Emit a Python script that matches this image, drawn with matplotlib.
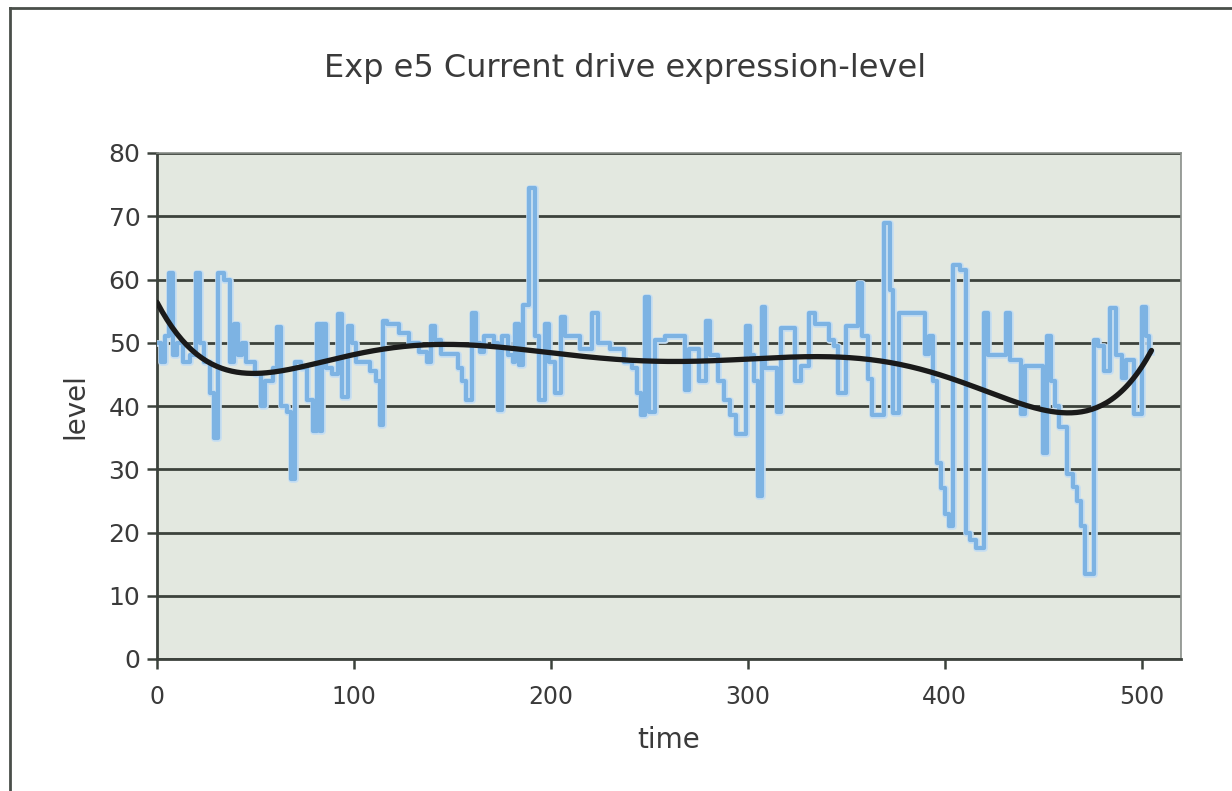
import numpy as np
import matplotlib
matplotlib.use("Agg")
import matplotlib.pyplot as plt
from matplotlib.lines import Line2D
import matplotlib.patheffects as pe

# Expression level samples: value holds from each time until the next one
time = [0, 2, 4, 6, 8, 10, 13, 17, 20, 22, 24, 27, 29, 31, 34, 37, 39, 41, 43, 45,
        50, 53, 55, 59, 61, 63, 66, 68, 70, 73, 76, 79, 81, 83, 84, 86, 89, 92, 94, 97,
        99, 101, 108, 111, 113, 115, 117, 123, 128, 133, 137, 139, 141, 144, 153, 155, 157, 160, 162, 164,
        166, 171, 173, 175, 178, 181, 182, 184, 186, 189, 192, 194, 197, 199, 202, 205, 207, 215, 221, 224,
        230, 237, 241, 244, 246, 248, 250, 253, 258, 268, 270, 275, 279, 281, 285, 288, 291, 294, 299, 301,
        303, 305, 307, 309, 315, 317, 324, 327, 331, 334, 341, 344, 346, 350, 356, 358, 361, 363, 369, 372,
        374, 377, 390, 392, 394, 396, 398, 400, 402, 404, 408, 411, 413, 416, 420, 422, 431, 433, 439, 441,
        450, 452, 454, 456, 458, 462, 465, 467, 469, 471, 476, 478, 481, 484, 487, 490, 492, 496, 500, 502,
        504, 505]
level = [50, 47, 51, 61, 48, 50, 47, 48, 61, 50, 47, 42, 35, 61, 60, 47, 53, 48, 50, 47,
         45, 40, 44, 46, 52.5, 40, 39, 28.5, 47, 46, 41, 36, 53, 36, 53, 46, 45, 54.6, 41.5, 52.6,
         50, 47, 45.5, 44, 37, 53.5, 53, 51.5, 50, 48.5, 47, 52.6, 50.5, 48.3, 46, 44, 41, 54.7, 50, 48.5,
         51, 50, 39.4, 51, 48, 47, 53, 46.5, 56, 74.5, 51, 41, 53, 47, 42, 54, 51, 49, 54.7, 50,
         49, 47, 46, 42, 38.5, 57.3, 39, 50.5, 51, 42.5, 49, 44, 53.5, 48, 44, 41, 38.5, 35.5, 52.6, 48,
         44, 25.7, 55.7, 46, 39, 52.3, 44, 46.3, 54.7, 53, 50.5, 49.5, 42, 52.6, 59.4, 51, 44.3, 38.5, 69, 58.4,
         38.9, 54.7, 48.3, 51, 44, 31, 27, 23, 21, 62.3, 61.5, 20, 18.8, 17.5, 54.7, 48, 54.7, 47.3, 38.8, 46.3,
         32.6, 51, 44, 40, 36.7, 29.2, 27.2, 25, 21, 13.4, 50.5, 49.5, 45.5, 55.5, 48, 44.5, 47.3, 38.8, 55.7, 51,
         48.5, 48.5]

# Polynomial trend of the level
trend_time = [0, 15, 26, 40, 55, 67, 77, 85, 100, 113, 125, 142, 159, 169, 192, 209, 234,
              253, 284, 315, 337, 351, 368, 385, 402, 420, 435, 452, 465, 479, 489, 497, 505]
trend_level = [56.5, 49.4, 47.1, 45.5, 45.2, 45.5, 46.5, 47.2, 47.8, 48.9, 50.0, 49.7, 49.6,
               49.4, 48.6, 48.1, 47.1, 47.0, 47.3, 47.8, 48.1, 47.8, 47.1, 45.7, 43.9, 42.7,
               41.0, 39.4, 38.9, 39.4, 42.6, 45.2, 48.4]

x_ticks = [0, 100, 200, 300, 400, 500]
y_ticks = [0, 10, 20, 30, 40, 50, 60, 70, 80]

TEXT = "#3a3a3a"
GRID = "#3c423c"

fig = plt.figure(figsize=(12.32, 7.91), dpi=100)
fig.patch.set_facecolor("white")
ax = fig.add_axes([157 / 1232, 1 - 659 / 791, (1181 - 157) / 1232, (659 - 153) / 791])
ax.set_facecolor("#e3e8e0")

ax.set_xlim(0, 520)
ax.set_ylim(0, 80)
ax.set_xticks(x_ticks)
ax.set_yticks(y_ticks)
ax.yaxis.grid(True, color=GRID, linewidth=2.0)
ax.set_axisbelow(True)

ax.plot(time, level, drawstyle="steps-post", color="#7db3e3", linewidth=3.0, zorder=3,
        path_effects=[pe.Stroke(linewidth=4.8, foreground="#c6def2"), pe.Normal()])

tt = np.asarray(trend_time, dtype=float)
coef = np.polyfit(tt / 505.0, trend_level, 6)
xs = np.linspace(0, 505, 400)
ax.plot(xs, np.polyval(coef, xs / 505.0), color="#1a1a1a", linewidth=3.8, zorder=4,
        solid_capstyle="round")

for side in ("left", "bottom"):
    ax.spines[side].set_color(GRID)
    ax.spines[side].set_linewidth(2.0)
for side in ("top", "right"):
    ax.spines[side].set_color("#8a8f8a")
    ax.spines[side].set_linewidth(1.2)

ax.tick_params(axis="both", colors=GRID, width=1.8, length=7, labelsize=17,
               labelcolor=TEXT, direction="out")
ax.tick_params(axis="y", pad=5, labelsize=18)
ax.tick_params(axis="x", pad=12)

ax.set_xlabel("time", fontsize=20, color=TEXT, labelpad=12)
ax.set_ylabel("level", fontsize=20, color=TEXT, labelpad=14)
fig.text(625 / 1232, 1 - 68 / 791, "Exp e5 Current drive expression-level",
         fontsize=23, color=TEXT, ha="center", va="center")

# Chart frame edges
fig.add_artist(Line2D([10 / 1232, 10 / 1232], [0, 1 - 8 / 791], transform=fig.transFigure,
                      color="#4a4f4a", linewidth=2))
fig.add_artist(Line2D([10 / 1232, 1], [1 - 8 / 791, 1 - 8 / 791], transform=fig.transFigure,
                      color="#4a4f4a", linewidth=2))

fig.savefig("out.png", dpi=100, facecolor="white")
